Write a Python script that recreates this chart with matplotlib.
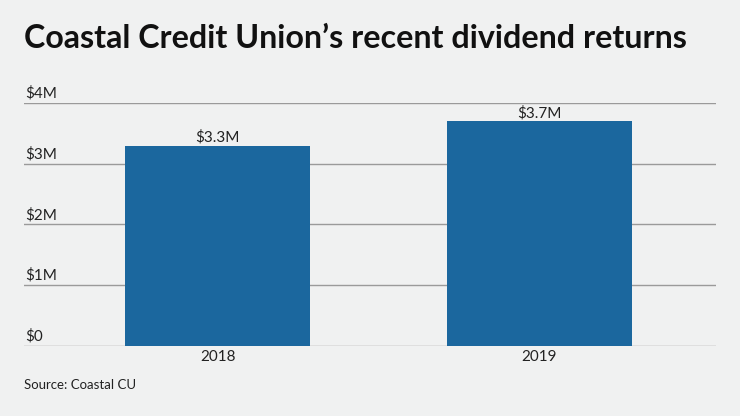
import matplotlib
matplotlib.use("Agg")
import matplotlib.pyplot as plt

# data
years = ["2018", "2019"]
dividends = [3.3, 3.7]  # millions of dollars
value_labels = ["$3.3M", "$3.7M"]
y_ticks = [0, 1, 2, 3, 4]
y_tick_labels = ["$0", "$1M", "$2M", "$3M", "$4M"]

bg = "#f0f1f1"
bar_color = "#1b679e"
grid_color = "#9a9a9a"

plt.rcParams['font.family'] = ['Lato', 'DejaVu Sans']

fig = plt.figure(figsize=(7.4, 4.16), dpi=100, facecolor=bg)
ax = fig.add_axes([0.0324, 0.1683, 0.9352, 0.5841], facecolor=bg)

x = list(range(len(years)))
ax.bar(x, dividends, width=0.575, color=bar_color, zorder=3)

ax.set_xlim(-0.602, 1.55)
ax.set_ylim(0, 4)

# horizontal gridlines with labels sitting on top
for t, lab in zip(y_ticks, y_tick_labels):
    ax.axhline(t, color=grid_color, lw=1.0, zorder=1)
    ax.text(-0.598, t + 0.04, lab, ha="left", va="bottom", fontsize=11, color="#222222")

for xi, v, lab in zip(x, dividends, value_labels):
    ax.text(xi, v + 0.01, lab, ha="center", va="bottom", fontsize=11, color="#222222", zorder=4)

ax.set_xticks(x)
ax.set_xticklabels(years, fontsize=11, color="#222222")
ax.tick_params(axis="x", length=0, pad=3)
ax.set_yticks([])
for s in ax.spines.values():
    s.set_visible(False)

fig.text(24 / 740, 1 - 38 / 416, "Coastal Credit Union\u2019s recent dividend returns",
         fontsize=23.2, fontweight="bold", color="#111111", ha="left", va="center")
fig.text(24 / 740, 1 - 385 / 416, "Source: Coastal CU", fontsize=9.5, color="#222222",
         ha="left", va="center")

fig.savefig("out.png", dpi=100, facecolor=bg)
